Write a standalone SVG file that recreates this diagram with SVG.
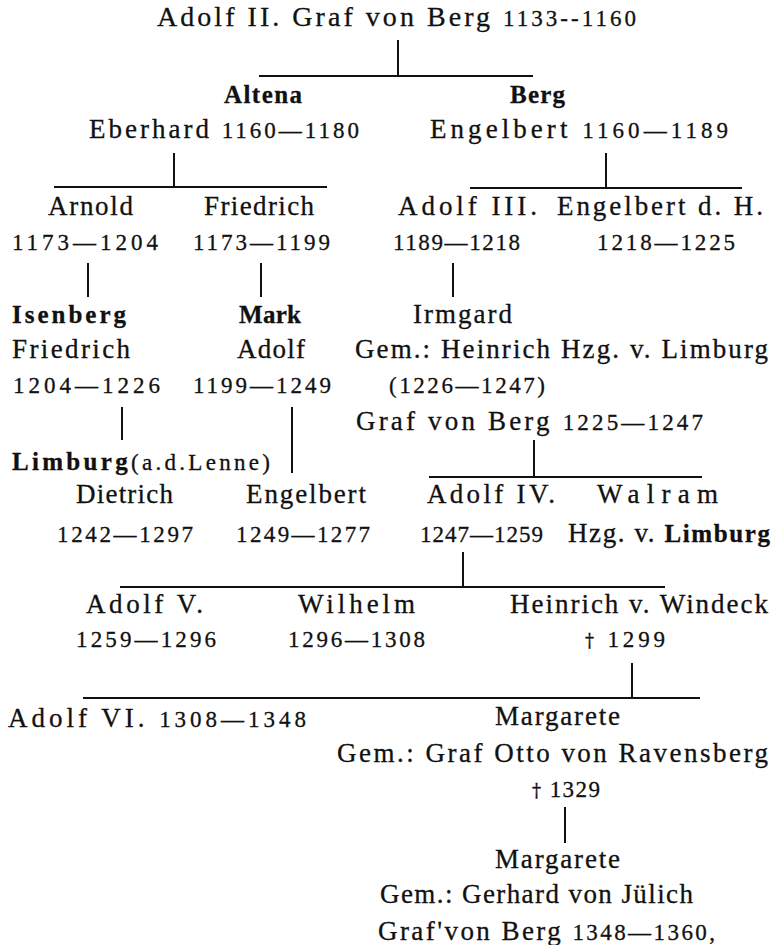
<svg xmlns="http://www.w3.org/2000/svg" width="775" height="945" viewBox="0 0 775 945">
<style>
text{font-family:"Liberation Serif","Times New Roman",serif;font-size:27px;fill:#111;stroke:#111;stroke-width:0.3px}
.h{font-size:28px}
.b{font-weight:bold;font-size:25px}
.d{font-size:23px}
.x{font-family:"DejaVu Serif",serif;font-size:18px}
.c line{stroke:#111;stroke-width:2}
</style>
<rect width="775" height="945" fill="#fff"/>
<g class="c" id="connectors">
<line x1="398" y1="40" x2="398" y2="76"/>
<line x1="259" y1="76" x2="533" y2="76"/>
<line x1="174" y1="153" x2="174" y2="187"/>
<line x1="54" y1="187" x2="327" y2="187"/>
<line x1="606" y1="153" x2="606" y2="188"/>
<line x1="470" y1="188" x2="742" y2="188"/>
<line x1="88" y1="263" x2="88" y2="297"/>
<line x1="261" y1="263" x2="261" y2="297"/>
<line x1="453" y1="263" x2="453" y2="297"/>
<line x1="122" y1="407" x2="122" y2="440"/>
<line x1="292" y1="407" x2="292" y2="473"/>
<line x1="534" y1="440" x2="534" y2="477"/>
<line x1="429" y1="477" x2="702" y2="477"/>
<line x1="463" y1="552" x2="463" y2="587"/>
<line x1="120" y1="587" x2="665" y2="587"/>
<line x1="632" y1="663" x2="632" y2="698"/>
<line x1="83" y1="698" x2="700" y2="698"/>
<line x1="565" y1="807" x2="565" y2="843"/>
</g>
<g id="adolf2"><text class="h" x="157" y="26" textLength="479" lengthAdjust="spacing">Adolf II. Graf von Berg <tspan class="d">1133--1160</tspan></text></g>
<g id="eberhard">
<text class="b" x="224" y="103" textLength="78" lengthAdjust="spacing">Altena</text>
<text x="89" y="138" textLength="270" lengthAdjust="spacing">Eberhard <tspan class="d">1160—1180</tspan></text>
</g>
<g id="engelbert1">
<text class="b" x="510" y="103" textLength="55" lengthAdjust="spacing">Berg</text>
<text x="430" y="138" textLength="298" lengthAdjust="spacing">Engelbert <tspan class="d">1160—1189</tspan></text>
</g>
<g id="arnold">
<text x="48" y="215" textLength="85" lengthAdjust="spacing">Arnold</text>
<text class="d" x="12" y="250" textLength="146" lengthAdjust="spacing">1173—1204</text>
</g>
<g id="friedrich1">
<text x="204" y="215" textLength="110" lengthAdjust="spacing">Friedrich</text>
<text class="d" x="193" y="250" textLength="137" lengthAdjust="spacing">1173—1199</text>
</g>
<g id="adolf3">
<text x="398" y="215" textLength="139" lengthAdjust="spacing">Adolf III.</text>
<text class="d" x="393" y="250" textLength="127" lengthAdjust="spacing">1189—1218</text>
</g>
<g id="engelbert_dh">
<text x="557" y="215" textLength="206" lengthAdjust="spacing">Engelbert d. H.</text>
<text class="d" x="597" y="250" textLength="138" lengthAdjust="spacing">1218—1225</text>
</g>
<g id="friedrich_isenberg">
<text class="b" x="12" y="323" textLength="114" lengthAdjust="spacing">Isenberg</text>
<text x="12" y="358" textLength="118" lengthAdjust="spacing">Friedrich</text>
<text class="d" x="13" y="393" textLength="147" lengthAdjust="spacing">1204—1226</text>
</g>
<g id="adolf_mark">
<text class="b" x="239" y="323" textLength="62" lengthAdjust="spacing">Mark</text>
<text x="237" y="358" textLength="68" lengthAdjust="spacing">Adolf</text>
<text class="d" x="193" y="393" textLength="138" lengthAdjust="spacing">1199—1249</text>
</g>
<g id="irmgard">
<text x="413" y="323" textLength="99" lengthAdjust="spacing">Irmgard</text>
<text x="355" y="358" textLength="413" lengthAdjust="spacing">Gem.: Heinrich Hzg. v. Limburg</text>
<text class="d" x="389" y="393" textLength="156" lengthAdjust="spacing">(1226—1247)</text>
<text x="356" y="430" textLength="347" lengthAdjust="spacing">Graf von Berg <tspan class="d">1225—1247</tspan></text>
</g>
<g id="limburg">
<text x="12" y="470" textLength="258" lengthAdjust="spacing"><tspan class="b" font-size="26">Limburg</tspan><tspan font-size="23">(a.d.Lenne)</tspan></text>
</g>
<g id="dietrich">
<text x="76" y="503" textLength="97" lengthAdjust="spacing">Dietrich</text>
<text class="d" x="57" y="542" textLength="136" lengthAdjust="spacing">1242—1297</text>
</g>
<g id="engelbert2">
<text x="246" y="503" textLength="120" lengthAdjust="spacing">Engelbert</text>
<text class="d" x="236" y="542" textLength="134" lengthAdjust="spacing">1249—1277</text>
</g>
<g id="adolf4">
<text x="427" y="503" textLength="128" lengthAdjust="spacing">Adolf IV.</text>
<text class="d" x="420" y="542" textLength="123" lengthAdjust="spacing">1247—1259</text>
</g>
<g id="walram">
<text x="597" y="503" textLength="121" lengthAdjust="spacing">Walram</text>
<text x="568" y="542" textLength="202" lengthAdjust="spacing">Hzg. v. <tspan class="b" font-size="26">Limburg</tspan></text>
</g>
<g id="adolf5">
<text x="86" y="613" textLength="117" lengthAdjust="spacing">Adolf V.</text>
<text class="d" x="76" y="647" textLength="140" lengthAdjust="spacing">1259—1296</text>
</g>
<g id="wilhelm">
<text x="298" y="613" textLength="117" lengthAdjust="spacing">Wilhelm</text>
<text class="d" x="288" y="647" textLength="137" lengthAdjust="spacing">1296—1308</text>
</g>
<g id="heinrich_windeck">
<text x="510" y="613" textLength="258" lengthAdjust="spacing">Heinrich v. Windeck</text>
<text class="d" x="585" y="647" textLength="80" lengthAdjust="spacing"><tspan class="x">†</tspan> 1299</text>
</g>
<g id="adolf6">
<text x="8" y="727" textLength="298" lengthAdjust="spacing">Adolf VI. <tspan class="d">1308—1348</tspan></text>
</g>
<g id="margarete1">
<text x="495" y="725" textLength="125" lengthAdjust="spacing">Margarete</text>
<text x="337" y="762" textLength="431" lengthAdjust="spacing">Gem.: Graf Otto von Ravensberg</text>
<text class="d" x="532" y="797" textLength="68" lengthAdjust="spacing"><tspan class="x">†</tspan> 1329</text>
</g>
<g id="margarete2">
<text x="495" y="868" textLength="125" lengthAdjust="spacing">Margarete</text>
<text x="380" y="903" textLength="313" lengthAdjust="spacing">Gem.: Gerhard von Jülich</text>
<text x="378" y="940" textLength="337" lengthAdjust="spacing">Graf'von Berg <tspan class="d">1348—1360,</tspan></text>
</g>
</svg>
